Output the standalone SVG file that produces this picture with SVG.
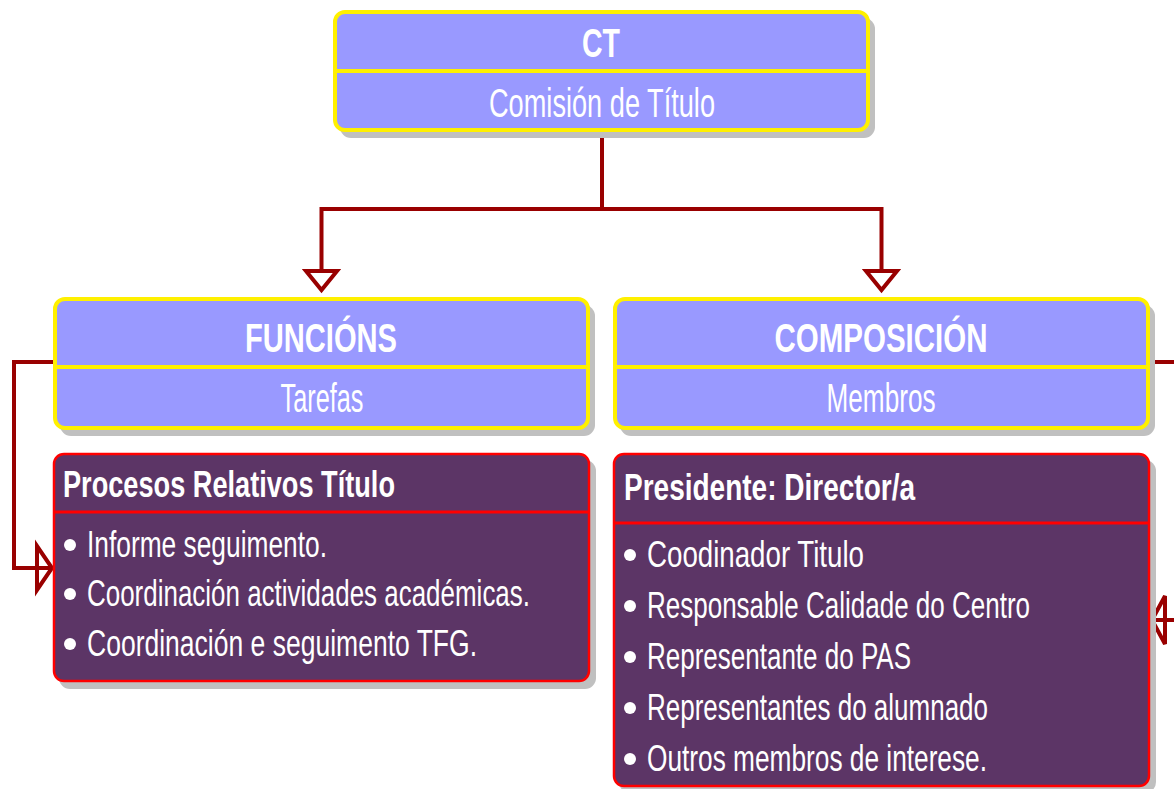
<svg xmlns="http://www.w3.org/2000/svg" width="1174" height="789" viewBox="0 0 1174 789">
<style>
.shadow{fill:#c0c0c0}
.head{fill:#9999ff;stroke:#fff000;stroke-width:4}
.hdiv{stroke:#fff000;stroke-width:4}
.body{fill:#5c3566;stroke:#ff0000;stroke-width:2.5}
.bdiv{stroke:#ff0000;stroke-width:3}
.t{font-family:"Liberation Sans",Arial,sans-serif;fill:#ffffff}
.b{font-weight:bold}
.c{text-anchor:middle}
.big{font-size:29.6px}
.hd{font-size:27.4px}
.li{font-size:28px}
.conn{fill:none;stroke:#990000;stroke-width:4}
.arr{fill:#ffffff;stroke:#990000;stroke-width:4;stroke-linejoin:miter}
</style>
<rect width="1174" height="789" fill="#ffffff"/>
<g id="connectors">
<polyline class="conn" points="602,132 602,209 321.5,209 321.5,271"/>
<polyline class="conn" points="602,209 881.5,209 881.5,271"/>
<polygon class="arr" points="306,271 337,271 321.5,290"/>
<polygon class="arr" points="866,271 897,271 881.5,290"/>
<polyline class="conn" points="53,362 14,362 14,568 50,568"/>
<polygon class="arr" style="fill:none" points="37,546 37,590 52,568"/>
<polyline class="conn" points="1150,362 1180,362"/>
<polyline class="conn" points="1180,620 1153,620"/>
<polygon class="arr" style="fill:none" points="1165,596 1165,644 1152,620"/>
</g>
<g id="ct">
<rect class="shadow" x="340" y="18" width="535" height="120" rx="11"/>
<rect class="head" x="335" y="12" width="533" height="118" rx="10"/>
<line class="hdiv" x1="335" y1="71" x2="868" y2="71"/>
<text class="t b c big" transform="translate(601,57) scale(1,1.35)" textLength="38" lengthAdjust="spacingAndGlyphs">CT</text>
<text class="t c big" transform="translate(602,117) scale(1,1.35)" textLength="226" lengthAdjust="spacingAndGlyphs">Comisión de Título</text>
</g>
<g id="funcions">
<rect class="shadow" x="60" y="305" width="535" height="131" rx="11"/>
<rect class="head" x="55" y="299" width="533" height="129" rx="10"/>
<line class="hdiv" x1="55" y1="367" x2="588" y2="367"/>
<text class="t b c big" transform="translate(321,352) scale(1,1.35)" textLength="152" lengthAdjust="spacingAndGlyphs">FUNCIÓNS</text>
<text class="t c big" transform="translate(322,412) scale(1,1.35)" textLength="83" lengthAdjust="spacingAndGlyphs">Tarefas</text>
</g>
<g id="composicion">
<rect class="shadow" x="620" y="305" width="535" height="131" rx="11"/>
<rect class="head" x="615" y="299" width="533" height="129" rx="10"/>
<line class="hdiv" x1="615" y1="367" x2="1148" y2="367"/>
<text class="t b c big" transform="translate(881,352) scale(1,1.35)" textLength="213" lengthAdjust="spacingAndGlyphs">COMPOSICIÓN</text>
<text class="t c big" transform="translate(881,412) scale(1,1.35)" textLength="109" lengthAdjust="spacingAndGlyphs">Membros</text>
</g>
<g id="procesos">
<rect class="shadow" x="59" y="460" width="537" height="229" rx="11"/>
<rect class="body" x="54" y="454" width="535" height="227" rx="10"/>
<line class="bdiv" x1="54" y1="512" x2="589" y2="512"/>
<text class="t b hd" transform="translate(63,497) scale(1,1.35)" textLength="332" lengthAdjust="spacingAndGlyphs">Procesos Relativos Título</text>
<circle cx="70" cy="545" r="6" fill="#ffffff"/>
<text class="t li" transform="translate(87,557) scale(1,1.35)" textLength="240" lengthAdjust="spacingAndGlyphs">Informe seguimento.</text>
<circle cx="70" cy="594" r="6" fill="#ffffff"/>
<text class="t li" transform="translate(87,606) scale(1,1.35)" textLength="443" lengthAdjust="spacingAndGlyphs">Coordinación actividades académicas.</text>
<circle cx="70" cy="644" r="6" fill="#ffffff"/>
<text class="t li" transform="translate(87,656) scale(1,1.35)" textLength="390" lengthAdjust="spacingAndGlyphs">Coordinación e seguimento TFG.</text>
</g>
<g id="membros">
<rect class="shadow" x="619" y="460" width="537" height="333" rx="11"/>
<rect class="body" x="614" y="454" width="535" height="332" rx="10"/>
<line class="bdiv" x1="614" y1="523" x2="1149" y2="523"/>
<text class="t b hd" transform="translate(624,500) scale(1,1.35)" textLength="291" lengthAdjust="spacingAndGlyphs">Presidente: Director/a</text>
<circle cx="630" cy="555" r="6" fill="#ffffff"/>
<text class="t li" transform="translate(647,567) scale(1,1.35)" textLength="217" lengthAdjust="spacingAndGlyphs">Coodinador Titulo</text>
<circle cx="630" cy="606" r="6" fill="#ffffff"/>
<text class="t li" transform="translate(647,618) scale(1,1.35)" textLength="383" lengthAdjust="spacingAndGlyphs">Responsable Calidade do Centro</text>
<circle cx="630" cy="657" r="6" fill="#ffffff"/>
<text class="t li" transform="translate(647,669) scale(1,1.35)" textLength="264" lengthAdjust="spacingAndGlyphs">Representante do PAS</text>
<circle cx="630" cy="708" r="6" fill="#ffffff"/>
<text class="t li" transform="translate(647,720) scale(1,1.35)" textLength="341" lengthAdjust="spacingAndGlyphs">Representantes do alumnado</text>
<circle cx="630" cy="759" r="6" fill="#ffffff"/>
<text class="t li" transform="translate(647,771) scale(1,1.35)" textLength="340" lengthAdjust="spacingAndGlyphs">Outros membros de interese.</text>
</g>
</svg>
